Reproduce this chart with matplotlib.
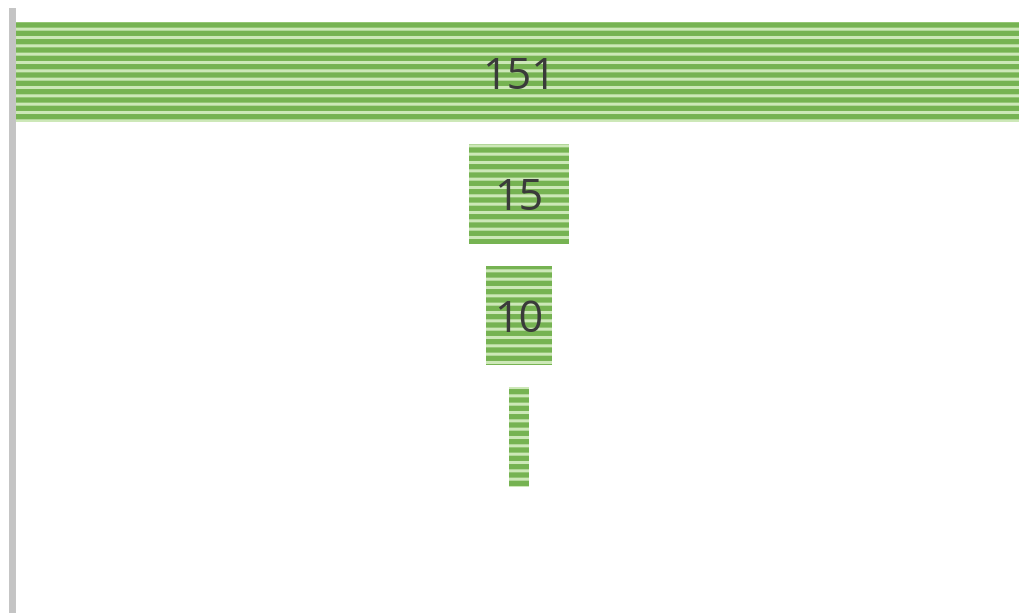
import matplotlib.pyplot as plt

# Funnel stages (top to bottom); the last stage is empty
stages = ["Stage 1", "Stage 2", "Stage 3", "Stage 4", "Stage 5"]
counts = [151, 15, 10, 3, 0]
# Only the wider bars carry a label in the original
shown_labels = ["151", "15", "10", "", ""]

plt.rcParams["hatch.linewidth"] = 2.2

fig = plt.figure(figsize=(10.19, 6.13), dpi=100)
ax = fig.add_axes([0.0118, -0.0114, 0.995, 0.9934])

y = list(range(len(stages)))
lefts = [-c / 2 for c in counts]
# edgecolor gives the colour of the light stripes
bars = ax.barh(y, counts, left=lefts, height=0.82, color="#76b352",
               edgecolor="#cde8b8", linewidth=0, hatch="--")

for yi, txt in zip(y, shown_labels):
    if txt:
        ax.text(0, yi, txt, ha="center", va="center_baseline", fontsize=31,
                color="#3a3a3a", family=["Open Sans", "DejaVu Sans"])

ax.set_xlim(-76.1, 76.1)
ax.set_ylim(len(stages) - 0.5, -0.5)
ax.set_xticks([])
ax.set_yticks([])
for side in ["top", "right", "bottom"]:
    ax.spines[side].set_visible(False)
ax.spines["left"].set_color("#c4c4c4")
ax.spines["left"].set_linewidth(5)

fig.savefig("out.png", dpi=100)
